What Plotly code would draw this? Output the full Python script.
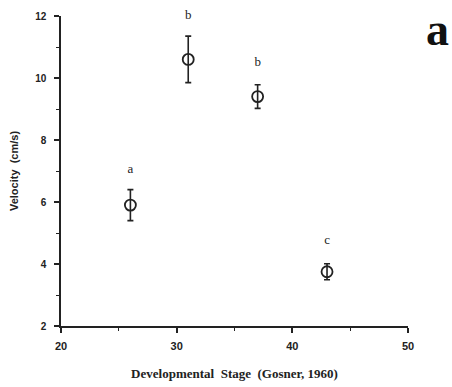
import plotly.graph_objects as go

stage = [26, 31, 37, 43]
velocity = [5.9, 10.6, 9.4, 3.75]
err = [0.5, 0.75, 0.38, 0.26]
letters = ["a", "b", "b", "c"]
letter_y = [7.05, 12.0, 10.5, 4.75]
x_ticks = [20, 30, 40, 50]
y_ticks = [2, 4, 6, 8, 10, 12]

fig = go.Figure()
fig.add_trace(go.Scatter(
    x=stage, y=velocity, mode="markers",
    marker=dict(symbol="circle-open", size=11, color="#222", line=dict(width=1.8)),
    error_y=dict(type="data", array=err, visible=True, color="#222", thickness=1.6, width=3),
    showlegend=False, cliponaxis=False,
))
fig.add_trace(go.Scatter(
    x=stage, y=letter_y, mode="text", text=letters,
    textfont=dict(family="Liberation Serif", size=13, color="#222222"),
    showlegend=False, cliponaxis=False, hoverinfo="skip",
))

fig.update_xaxes(
    range=[20, 50], tickvals=x_ticks, showgrid=False, zeroline=False, automargin=False,
    showline=True, linecolor="#222", linewidth=1.5,
    ticks="outside", ticklen=5, tickwidth=1.5, tickcolor="#222",
    minor=dict(tickvals=[25, 35, 45], ticks="outside", ticklen=3, tickwidth=1, tickcolor="#222"),
    tickfont=dict(family="Liberation Sans", size=11, color="#222", weight="bold"),
    ticklabelstandoff=4,
    title=dict(text="Developmental  Stage  (Gosner, 1960)", standoff=18,
               font=dict(family="Liberation Serif", size=13, color="#222", weight="bold")),
)
fig.update_yaxes(
    range=[2, 12], tickvals=y_ticks, showgrid=False, zeroline=False, automargin=False,
    showline=True, linecolor="#222", linewidth=1.5,
    ticks="outside", ticklen=5, tickwidth=1.5, tickcolor="#222",
    minor=dict(tickvals=[3, 5, 7, 9, 11], ticks="outside", ticklen=3, tickwidth=1, tickcolor="#222"),
    tickfont=dict(family="Liberation Sans", size=10, color="#222", weight="bold"),
    ticklabelstandoff=6,
    title=dict(text="Velocity  (cm/s)", standoff=14,
               font=dict(family="Liberation Sans", size=11, color="#222", weight="bold")),
)
fig.add_annotation(text="a", xref="paper", yref="paper", x=1.125, y=1.045,
                   xanchor="right", yanchor="top", showarrow=False,
                   font=dict(family="Liberation Serif", size=46, color="#111", weight="bold"))

fig.update_layout(
    width=452, height=387, plot_bgcolor="white", paper_bgcolor="white",
    margin=dict(l=61, r=44, t=16, b=61),
)
fig.write_html("out.html")
